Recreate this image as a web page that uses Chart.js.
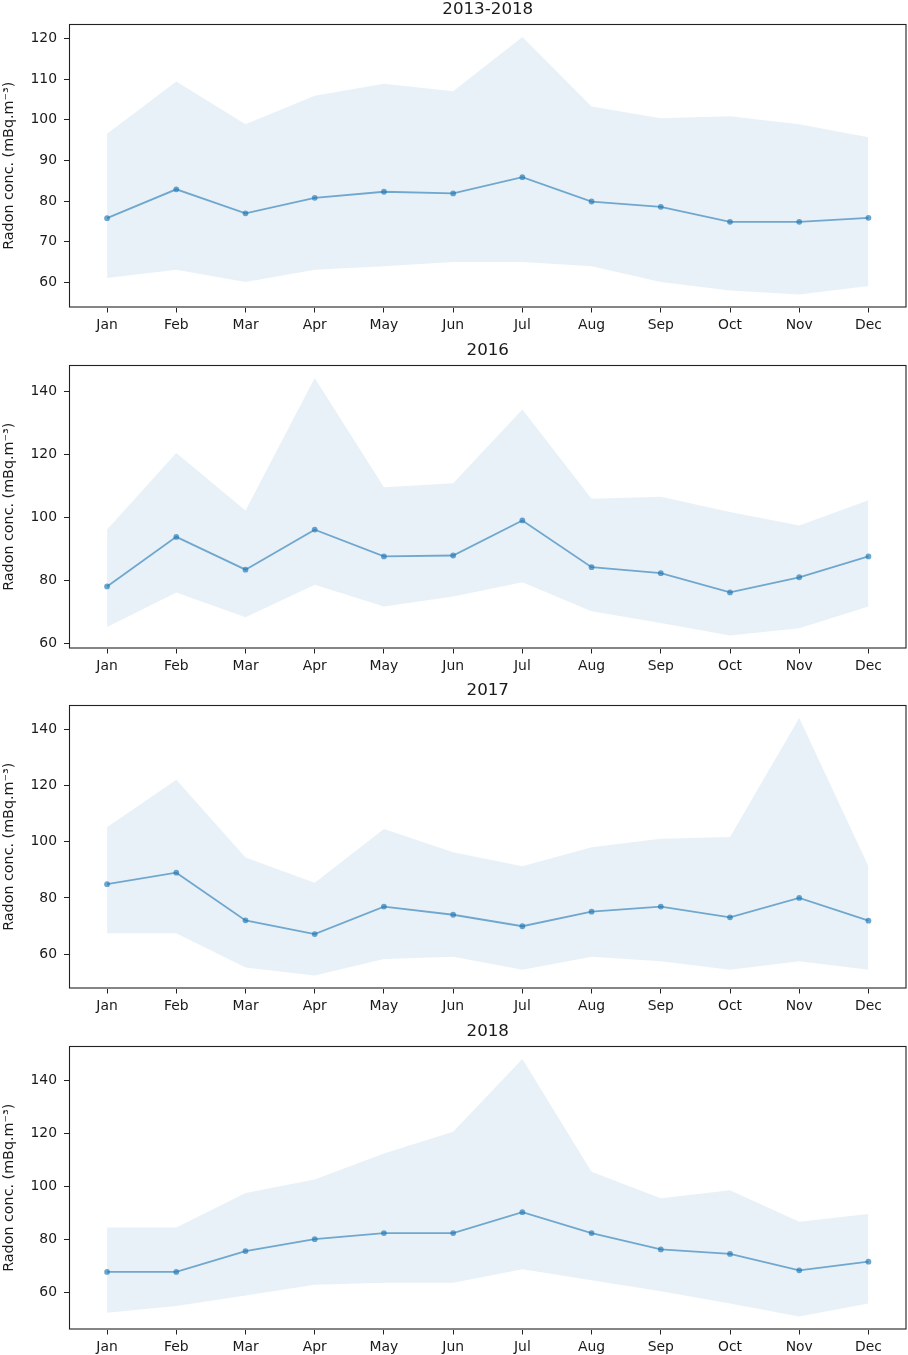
<!DOCTYPE html>
<html>
<head>
<meta charset="utf-8">
<script src="https://cdn.jsdelivr.net/npm/chart.js@4.4.1/dist/chart.umd.min.js"></script>
<style>
  html, body { margin: 0; padding: 0; background: #fff; }
  body { width: 908px; height: 1355px; position: relative; overflow: hidden; }
  .panel { position: absolute; left: 0; width: 908px; height: 333px; }
  canvas { display: block; }
</style>
</head>
<body>
<div class="panel" style="top:0px"><canvas id="c0" width="908" height="333"></canvas></div>
<div class="panel" style="top:341px"><canvas id="c1" width="908" height="333"></canvas></div>
<div class="panel" style="top:681px"><canvas id="c2" width="908" height="333"></canvas></div>
<div class="panel" style="top:1022px"><canvas id="c3" width="908" height="333"></canvas></div>
<script>
// ---- Data ----
const months = ['Jan','Feb','Mar','Apr','May','Jun','Jul','Aug','Sep','Oct','Nov','Dec'];
const panelTitles = ['2013-2018', '2016', '2017', '2018'];
const yLabel = 'Radon conc. (mBq.m\u207B\u00B3)';

// 2013-2018
const mean_all  = [75.8, 82.9, 77.0, 80.8, 82.3, 81.9, 85.9, 79.9, 78.6, 74.9, 74.9, 75.9];
const upper_all = [96.6, 109.4, 98.9, 105.9, 108.9, 107.0, 120.4, 103.3, 100.4, 100.9, 98.9, 95.7];
const lower_all = [61.1, 63.1, 60.1, 63.1, 64.0, 65.0, 65.0, 64.0, 60.1, 58.0, 57.0, 59.1];

// 2016
const mean_2016  = [78.1, 93.8, 83.4, 96.1, 87.6, 87.9, 99.0, 84.2, 82.3, 76.2, 81.0, 87.6];
const upper_2016 = [96.1, 120.4, 102.2, 144.2, 109.5, 110.8, 134.2, 105.9, 106.5, 101.7, 97.4, 105.4];
const lower_2016 = [65.2, 76.2, 68.3, 78.6, 71.7, 74.9, 79.4, 70.2, 66.5, 62.5, 64.8, 71.7];

// 2017
const mean_2017  = [84.9, 89.0, 72.0, 67.1, 76.9, 74.0, 69.9, 75.1, 76.9, 73.1, 80.0, 71.9];
const upper_2017 = [105.2, 122.1, 94.4, 85.4, 104.6, 96.3, 91.3, 98.1, 101.1, 101.7, 144.2, 91.3];
const lower_2017 = [67.4, 67.4, 55.2, 52.3, 58.2, 59.0, 54.4, 59.0, 57.4, 54.4, 57.4, 54.4];

// 2018
const mean_2018  = [67.6, 67.6, 75.5, 80.0, 82.3, 82.3, 90.2, 82.3, 76.1, 74.4, 68.2, 71.5];
const upper_2018 = [84.4, 84.4, 97.5, 102.6, 112.4, 120.6, 148.2, 105.5, 95.5, 98.5, 86.6, 89.5];
const lower_2018 = [52.2, 54.7, 58.7, 62.8, 63.5, 63.5, 68.6, 64.5, 60.3, 55.7, 50.7, 55.7];

// y tick values per panel
const yTicks_all  = [60, 70, 80, 90, 100, 110, 120];
const yTicks_2016 = [60, 80, 100, 120, 140];
const yTicks_2017 = [60, 80, 100, 120, 140];
const yTicks_2018 = [60, 80, 100, 120, 140];

const panels = [
  { title: panelTitles[0], mean: mean_all,  upper: upper_all,  lower: lower_all,  ticks: yTicks_all },
  { title: panelTitles[1], mean: mean_2016, upper: upper_2016, lower: lower_2016, ticks: yTicks_2016 },
  { title: panelTitles[2], mean: mean_2017, upper: upper_2017, lower: lower_2017, ticks: yTicks_2017 },
  { title: panelTitles[3], mean: mean_2018, upper: upper_2018, lower: lower_2018, ticks: yTicks_2018 },
];

// ---- Styling ----
const FONT = 'DejaVu Sans';
const C0 = '31,119,180';
const TEXT = '#1a1a1a';

const framePlugin = {
  id: 'frame',
  afterDraw(chart) {
    const a = chart.chartArea, ctx = chart.ctx;
    ctx.save();
    ctx.strokeStyle = '#222';
    ctx.lineWidth = 1.1;
    ctx.strokeRect(a.left + 0.5, a.top + 0.5, a.right - a.left - 1, a.bottom - a.top - 1);
    ctx.restore();
  }
};

const toPts = arr => arr.map((v, i) => ({ x: i, y: v }));

panels.forEach((p, idx) => {
  const lo = Math.min(...p.lower), hi = Math.max(...p.upper);
  const pad = 0.05 * (hi - lo);
  new Chart(document.getElementById('c' + idx), {
    type: 'line',
    data: {
      datasets: [
        { data: toPts(p.upper), fill: '+1', backgroundColor: `rgba(${C0},0.1)`,
          borderWidth: 0, pointRadius: 0, order: 2, tension: 0 },
        { data: toPts(p.lower), fill: false, borderWidth: 0, pointRadius: 0,
          order: 3, tension: 0 },
        { data: toPts(p.mean), fill: false, borderColor: `rgba(${C0},0.6)`, borderWidth: 1.8,
          pointRadius: 2.9, pointBackgroundColor: `rgba(${C0},0.65)`, pointBorderWidth: 0,
          order: 0, tension: 0 }
      ]
    },
    options: {
      responsive: false,
      animation: false,
      devicePixelRatio: 1,
      layout: { autoPadding: false, padding: { left: 0, right: 1.5, top: 0, bottom: 0 } },
      plugins: {
        legend: { display: false },
        tooltip: { enabled: false },
        filler: { drawTime: 'beforeDatasetsDraw' },
        title: {
          display: true, text: p.title, fullSize: false, color: TEXT,
          font: { family: FONT, size: 16.7, weight: 'normal', lineHeight: 1 },
          padding: { top: 1, bottom: 6.3 }
        }
      },
      scales: {
        x: {
          type: 'linear', min: -0.55, max: 11.55,
          afterBuildTicks: s => { s.ticks = months.map((m, i) => ({ value: i })); },
          afterFit: s => { s.height = 25.5; s.paddingLeft = 0; s.paddingRight = 0; },
          ticks: { color: TEXT, font: { family: FONT, size: 13.9 }, padding: 5,
                   autoSkip: false, maxRotation: 0,
                   callback: v => months[v] },
          grid: { display: true, drawOnChartArea: false, drawTicks: true, tickLength: 5,
                  tickColor: '#222', tickWidth: 1 },
          border: { display: false }
        },
        y: {
          type: 'linear', min: lo - pad, max: hi + pad,
          afterBuildTicks: s => { s.ticks = p.ticks.map(v => ({ value: v })); },
          afterFit: s => { s.width = 69; s.paddingTop = 0; s.paddingBottom = 0; },
          ticks: { color: TEXT, font: { family: FONT, size: 13.9 }, padding: 7 },
          grid: { display: true, drawOnChartArea: false, drawTicks: true, tickLength: 5,
                  tickColor: '#222', tickWidth: 1 },
          border: { display: false },
          title: { display: true, text: yLabel, color: TEXT,
                   font: { family: FONT, size: 14.3 }, padding: { top: 1, bottom: 0 } }
        }
      }
    },
    plugins: [framePlugin]
  });
});
</script>
</body>
</html>
